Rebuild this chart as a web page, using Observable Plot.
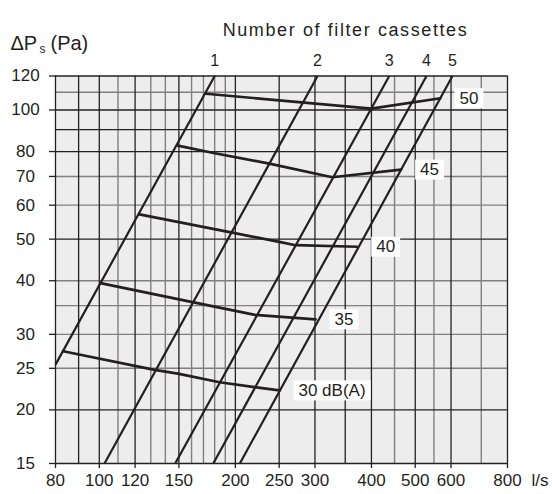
<!DOCTYPE html>
<html><head><meta charset="utf-8">
<script src="https://cdn.jsdelivr.net/npm/d3@7"></script>
<script src="https://cdn.jsdelivr.net/npm/@observablehq/plot@0.6"></script>
<style>
body{margin:0;background:#fff;}
.ttl text{letter-spacing:1.6px;}
</style>
</head><body><div id="chart"></div>
<script>
// Axis ticks and grid values
const xTicks = [80,100,120,150,200,250,300,400,500,600,800];
const yTicks = [15,20,25,30,40,50,60,70,80,100,120];
const xGridDark = [80,90,100,120,150,200,250,300,350,400,500,600,800];
const xGridLight = [110,130,140,160,170,180,190,450,550,700];
const yGridDark = [15,20,50,80,90,100,120];
const yGridLight = [25,30,35,40,60,70,110];

// Number of filter cassettes lines: [flow, pressure] at low and high end
const cassetteLabels = ["1","2","3","4","5"];
const cassetteLow  = [[80,25.5],[102.7,15],[147.2,15],[178.7,15],[204.6,15]];
const cassetteHigh = [[180,120],[304,120],[438,120],[529.6,120],[604.5,120]];

// Sound level curves dB(A): [flow l/s, pressure Pa]
const dbLabels = ["30 dB(A)","35","40","45","50"];
const db30 = [[83.2,27.4],[132.5,24.8],[149.2,24.3],[184.5,23.2],[220.5,22.6],[250.4,22.2]];
const db35 = [[100.6,39.5],[159.7,35.7],[221,33.3],[300.8,32.5]];
const db40 = [[122.7,57.1],[196.8,51.8],[251.7,49.2],[271.7,48.4],[372,48.0]];
const db45 = [[149.2,82.6],[177.8,79.5],[239.2,74.9],[327.6,69.7],[465.3,72.6]];
const db50 = [[172.3,109.1],[399.6,100.7],[568.6,106.5]];

const cassettes = cassetteLabels.map((n,i)=>({n, x1:cassetteLow[i][0], y1:cassetteLow[i][1], x2:cassetteHigh[i][0], y2:cassetteHigh[i][1]}));
const curves = [db30,db35,db40,db45,db50];
const curveRows = curves.flatMap((pts,i)=>pts.map(([x,y])=>({k:dbLabels[i],x,y})));
const curveEnds = curves.map((pts,i)=>({label:dbLabels[i], x:pts[pts.length-1][0], y:pts[pts.length-1][1]}));

const ink = "#231f20";
const frameH = 494 - 75.5 - 31;
const chart = Plot.plot({
  width: 552, height: 494,
  marginLeft: 55, marginRight: 45, marginTop: 75.5, marginBottom: 31,
  style: {fontFamily: "'Liberation Sans', Arial, sans-serif", fontSize: "17px", color: ink, background: "#fff"},
  x: {type: "log", domain: [80, 800], axis: null},
  y: {type: "log", domain: [15, 120], axis: null},
  marks: [
    Plot.frame({fill: "#ededed", stroke: null}),
    Plot.ruleX(xGridLight, {stroke: "#808080", strokeWidth: 1.4}),
    Plot.ruleY(yGridLight, {stroke: "#808080", strokeWidth: 1.4}),
    Plot.ruleX(xGridDark, {stroke: "#222", strokeWidth: 1.3}),
    Plot.ruleY(yGridDark, {stroke: "#222", strokeWidth: 1.3}),
    Plot.link(cassettes, {x1: "x1", y1: "y1", x2: "x2", y2: "y2", stroke: ink, strokeWidth: 2.2}),
    Plot.line(curveRows, {x: "x", y: "y", z: "k", stroke: ink, strokeWidth: 2.7}),
    // x ticks and labels
    Plot.ruleX(xTicks, {x: d => d, insetTop: frameH, insetBottom: -5, stroke: ink, strokeWidth: 1.3}),
    Plot.text(xTicks, {x: d => d, text: d => String(d), frameAnchor: "bottom", dy: 22, fill: ink}),
    // y ticks and labels
    Plot.ruleY(yTicks, {y: d => d, insetLeft: -6, insetRight: 452, stroke: ink, strokeWidth: 1.3}),
    Plot.text(yTicks, {y: d => d, text: d => String(d), frameAnchor: "left", dx: -30, textAnchor: "middle", fill: ink}),
    Plot.text(cassettes, {x: "x2", y: "y2", text: "n", dy: -15.5, fontSize: 16, fill: ink}),
    Plot.text(curveEnds, {x: "x", y: "y", text: "label", dx: 19, textAnchor: "start", fill: ink, className: "dblab"}),
    Plot.text(["Number of filter cassettes"], {frameAnchor: "top", dx: 64, dy: -53, fontSize: 18, fill: ink, className: "ttl"}),
    Plot.text(["ΔP"], {frameAnchor: "top-left", dx: -45, dy: -40.5, textAnchor: "start", fontSize: 20, fill: ink}),
    Plot.text(["s"], {frameAnchor: "top-left", dx: -16, dy: -31.5, textAnchor: "start", fontSize: 12, fill: ink}),
    Plot.text(["(Pa)"], {frameAnchor: "top-left", dx: -5, dy: -40, textAnchor: "start", fontSize: 20, fill: ink}),
    Plot.text(["l/s"], {frameAnchor: "bottom-right", dx: 24, dy: 22, textAnchor: "start", fill: ink})
  ]
});
document.getElementById("chart").append(chart);

// white label boxes behind dB(A) labels
d3.select(chart).selectAll(".dblab text").each(function() {
  const b = this.getBBox();
  const r = d3.select(this.parentNode).insert("rect", () => this)
    .attr("x", b.x - 5).attr("y", b.y - 0.5)
    .attr("width", b.width + 10).attr("height", b.height + 1)
    .attr("fill", "#fff").attr("stroke", "none");
  const t = this.getAttribute("transform");
  if (t) r.attr("transform", t);
});
</script>
</body></html>
